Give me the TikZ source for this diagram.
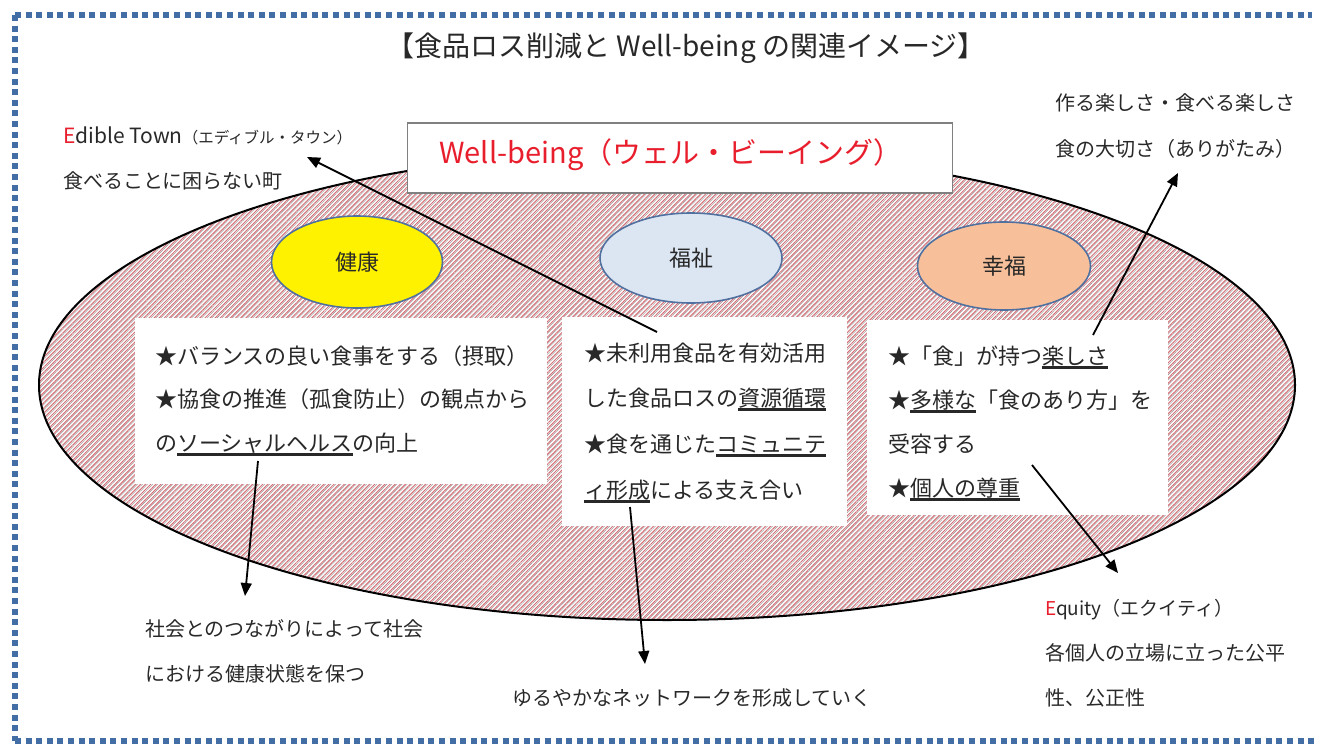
\documentclass[tikz,border=0pt]{standalone}
\usepackage{fontspec}
\setmainfont{Noto Sans CJK JP}
\usetikzlibrary{arrows.meta,patterns.meta,shapes.geometric}
\definecolor{txt}{RGB}{40,40,40}
\definecolor{wbred}{RGB}{232,30,45}
\definecolor{bordercol}{RGB}{66,110,165}
\definecolor{ellb}{RGB}{80,112,160}
\definecolor{lblue}{RGB}{220,230,242}
\definecolor{peach}{RGB}{248,192,154}
\definecolor{patred}{RGB}{212,112,120}
\definecolor{patgray}{RGB}{150,140,140}
\definecolor{boxgray}{RGB}{128,128,128}
\newcommand\ulj[1]{\leavevmode\setbox0=\hbox{#1}\rlap{\rule[-4.8pt]{\wd0}{2.6pt}}\box0}
\begin{document}
\begin{tikzpicture}[x=1pt,y=-1pt,
  every node/.style={inner sep=0pt,outer sep=0pt,text=txt},
  body/.style={anchor=base west,font=\fontsize{22pt}{26pt}\selectfont},
  outer/.style={anchor=base west,font=\fontsize{20pt}{24pt}\selectfont},
  arr/.style={draw=black,line width=1.8pt,-{Triangle[length=13pt,width=11pt]}},
  small/.style={ellipse,draw=ellb,line width=1.6pt,font=\fontsize{22pt}{26pt}\selectfont},
  whitebox/.style={fill=white,draw=none}]
\useasboundingbox (0,0) rectangle (1318,747);
% dotted frame
\draw[bordercol,line width=6pt,dash pattern=on 6pt off 4.6pt] (15,15) -- (1312,15);
\draw[bordercol,line width=6pt,dash pattern=on 6pt off 4.6pt] (15,15) -- (15,741);
\draw[bordercol,line width=6pt,dash pattern=on 6pt off 4.6pt] (15,741) -- (1318,741);
% title
\node[font=\fontsize{28pt}{32pt}\selectfont] (title) at (686,48) {【食品ロス削減と Well-being の関連イメージ】};
% big ellipse
\node[ellipse,minimum width=1256pt,minimum height=470pt,
  preaction={fill=white},
  pattern={Lines[angle=45,distance=3.6pt,line width=1.0pt]},pattern color=patred] (big) at (667,385) {};
\node[ellipse,minimum width=1256pt,minimum height=470pt,draw=black,line width=2pt,
  pattern={Lines[angle=45,distance=3.6pt,line width=0.4pt,xshift=1.8pt]},pattern color=patgray] (bigb) at (667,385) {};
% small ellipses
\node[small,fill=yellow,minimum width=171pt,minimum height=92pt] (kenko) at (357,262) {健康};
\node[small,fill=lblue,minimum width=182pt,minimum height=90pt] (fukushi) at (691,258) {福祉};
\node[small,fill=peach,minimum width=173pt,minimum height=88pt] (kofuku) at (1004,266) {幸福};
% well-being box
\node[draw=boxgray,line width=1.5pt,fill=white,minimum width=545pt,minimum height=70pt] (wbbox) at (680,158) {};
\node[font=\fontsize{29pt}{33pt}\selectfont,text=wbred] (wb) at (671,155) {Well-being（ウェル・ビーイング）};
% white boxes
\node[whitebox,minimum width=412pt,minimum height=166pt] (lbox) at (341,401) {};
\node[whitebox,minimum width=285pt,minimum height=209pt] (mbox) at (704.5,421.5) {};
\node[whitebox,minimum width=301pt,minimum height=195pt] (rbox) at (1017.5,417.5) {};
% left box text
\node[body] (l1) at (155,364) {★バランスの良い食事をする（摂取）};
\node[body] (l2) at (155,407) {★協食の推進（孤食防止）の観点から};
\node[body] (l3) at (155,451) {の\ulj{ソーシャルヘルス}の向上};
% middle box text
\node[body] (m1) at (584,361) {★未利用食品を有効活用};
\node[body] (m2) at (584,406) {した食品ロスの\ulj{資源循環}};
\node[body] (m3) at (584,452) {★食を通じた\ulj{コミュニテ}};
\node[body] (m4) at (584,498) {\ulj{ィ形成}による支え合い};
% right box text
\node[body] (r1) at (888,364) {★「食」が持つ\ulj{楽しさ}};
\node[body] (r2) at (888,408) {★\ulj{多様な}「食のあり方」を};
\node[body] (r3) at (888,452) {受容する};
\node[body] (r4) at (888,496) {★\ulj{個人の尊重}};
% outer texts
\node[outer,font=\fontsize{21pt}{24pt}\selectfont] (ed1) at (63,143) {\textcolor{wbred}{E}dible Town{\fontsize{15.5pt}{18pt}\selectfont（エディブル・タウン）}};
\node[outer] (ed2) at (63,188) {食べることに困らない町};
\node[outer] (tr1) at (1055,110) {作る楽しさ・食べる楽しさ};
\node[outer] (tr2) at (1055,156) {食の大切さ（ありがたみ）};
\node[outer] (bl1) at (145,636) {社会とのつながりによって社会};
\node[outer] (bl2) at (145,681) {における健康状態を保つ};
\node[outer] (bm1) at (512,705) {ゆるやかなネットワークを形成していく};
\node[outer,font=\fontsize{19pt}{22pt}\selectfont] (eq1) at (1045,615) {\textcolor{wbred}{E}quity（エクイティ）};
\node[outer] (eq2) at (1045,660) {各個人の立場に立った公平};
\node[outer] (eq3) at (1045,705) {性、公正性};
% arrows
\coordinate (a1s) at (657,332); \coordinate (a1e) at (307,157);
\coordinate (a2s) at (258,461); \coordinate (a2e) at (245,596);
\coordinate (a3s) at (630,507); \coordinate (a3e) at (645,664);
\coordinate (a4s) at (1093,335); \coordinate (a4e) at (1178,173);
\coordinate (a5s) at (1032,465); \coordinate (a5e) at (1118,573);
\draw[arr] (a1s) -- (a1e);
\draw[arr] (a2s) -- (a2e);
\draw[arr] (a3s) -- (a3e);
\draw[arr] (a4s) -- (a4e);
\draw[arr] (a5s) -- (a5e);
\end{tikzpicture}
\end{document}
